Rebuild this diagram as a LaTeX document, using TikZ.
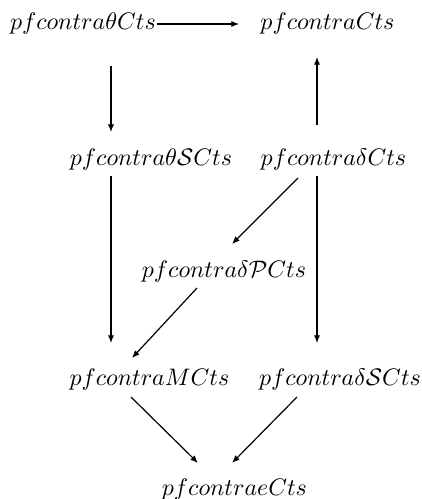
\documentclass[tikz,border=0pt]{standalone}
\usetikzlibrary{arrows.meta}
\begin{document}
\begin{tikzpicture}[x=0.4181pt,y=-0.4181pt,
  lbl/.style={inner sep=0pt,anchor=center},
  arr/.style={line width=0.5pt,-{Latex[length=3.2pt,width=2.6pt]}}]
\useasboundingbox (0,0) rectangle (421,499);
\node[lbl] (A) at (83,24) {$pfcontra\theta Cts$};
\node[lbl] (B) at (327.5,24) {$pfcontraCts$};
\node[lbl] (C) at (151,160) {$pfcontra\theta\mathcal{S}Cts$};
\node[lbl] (D) at (333.5,160) {$pfcontra\delta Cts$};
\node[lbl] (E) at (224,272) {$pfcontra\delta\mathcal{P}Cts$};
\node[lbl] (F) at (149.5,380) {$pfcontraMCts$};
\node[lbl] (G) at (340,380) {$pfcontra\delta\mathcal{S}Cts$};
\node[lbl] (H) at (234.5,490) {$pfcontraeCts$};
% endpoints
\coordinate (a1) at (157,24);   \coordinate (b1) at (239,24);
\coordinate (a2) at (111,66);   \coordinate (c2) at (111,132);
\coordinate (d3) at (317,125);  \coordinate (b3) at (317,57);
\coordinate (d4) at (298,178);  \coordinate (e4) at (232,244);
\coordinate (c5) at (111,176);  \coordinate (f5) at (111,343);
\coordinate (d6) at (317,176);  \coordinate (g6) at (317,343);
\coordinate (e7) at (197,288);  \coordinate (f7) at (132,358);
\coordinate (f8) at (131,397);  \coordinate (h8) at (198,463);
\coordinate (g9) at (297,397);  \coordinate (h9) at (232,463);
\draw[arr] (a1) -- (b1);
\draw[arr] (a2) -- (c2);
\draw[arr] (d3) -- (b3);
\draw[arr] (d4) -- (e4);
\draw[arr] (c5) -- (f5);
\draw[arr] (d6) -- (g6);
\draw[arr] (e7) -- (f7);
\draw[arr] (f8) -- (h8);
\draw[arr] (g9) -- (h9);
\end{tikzpicture}
\end{document}
